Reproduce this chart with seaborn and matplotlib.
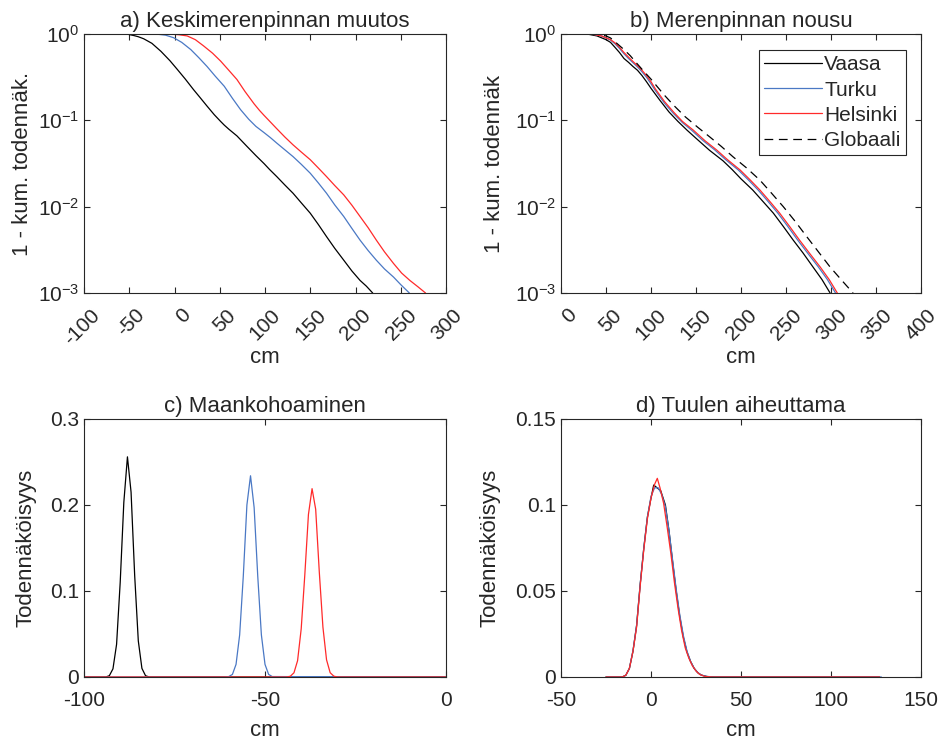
import numpy as np
import pandas as pd
import seaborn as sns
import matplotlib.pyplot as plt
from matplotlib.ticker import NullLocator, FuncFormatter, FixedLocator
from matplotlib.transforms import ScaledTranslation

# --- a) Keskimerenpinnan muutos: 1 - cumulative probability ---
a_vaasa_cm = [-100, -60, -52, -45, -40, -34, -25, -15, -5, 3, 12, 21, 28, 36, 44, 51, 55, 60, 69, 80, 90,
              99, 105, 113, 122, 131, 140, 150, 159, 168, 177, 187, 196, 205, 212, 219]
a_vaasa_p = [1, 1, 0.995, 0.96, 0.93, 0.88, 0.78, 0.63, 0.49, 0.39, 0.30, 0.227, 0.185, 0.146, 0.116, 0.097,
             0.088, 0.079, 0.066, 0.050, 0.039, 0.0315, 0.027, 0.0223, 0.0178, 0.0143, 0.0111, 0.0084,
             0.0062, 0.0045, 0.0033, 0.0024, 0.0018, 0.0014, 0.0012, 0.001]
a_turku_cm = [-100, -25, -19, -10, -1, 8, 18, 27, 36, 45, 55, 64, 73, 82, 90, 99, 106, 113, 122, 131,
              140, 150, 159, 168, 177, 187, 196, 205, 214, 223, 232, 242, 250, 259.5]
a_turku_p = [1, 1, 0.995, 0.97, 0.906, 0.80, 0.66, 0.53, 0.42, 0.325, 0.248, 0.18, 0.133, 0.103, 0.085,
             0.072, 0.063, 0.0545, 0.0455, 0.038, 0.031, 0.0244, 0.0188, 0.0143, 0.0105, 0.0077, 0.0056,
             0.0041, 0.0031, 0.0024, 0.0019, 0.00153, 0.00125, 0.001]
a_helsinki_cm = [-100, -10, -4, 5, 14, 23, 32, 42, 51, 60, 69, 78, 88, 94, 99, 105, 113, 122, 131, 140,
                 150, 159, 168, 177, 187, 196, 205, 214, 223, 232, 242, 251, 260, 269, 277.4]
a_helsinki_p = [1, 1, 0.997, 0.98, 0.95, 0.86, 0.73, 0.60, 0.485, 0.38, 0.297, 0.215, 0.155, 0.130, 0.114,
                0.098, 0.080, 0.064, 0.052, 0.043, 0.035, 0.028, 0.0223, 0.0176, 0.0137, 0.0104, 0.0077,
                0.0057, 0.0041, 0.0030, 0.0022, 0.0017, 0.0014, 0.00118, 0.001]

# --- b) Merenpinnan nousu ---
b_vaasa_cm = [0, 20, 30, 40, 50, 55, 60, 65, 70, 75, 80, 85, 90, 95, 100, 110, 120, 130, 140, 150, 165,
              180, 190, 200, 213, 225, 236, 247, 258, 269, 280, 290, 299]
b_vaasa_p = [1, 1, 0.995, 0.95, 0.86, 0.80, 0.70, 0.61, 0.52, 0.47, 0.42, 0.38, 0.33, 0.28, 0.235, 0.17,
             0.125, 0.097, 0.077, 0.062, 0.045, 0.034, 0.027, 0.021, 0.0156, 0.0113, 0.0084, 0.0059,
             0.0041, 0.0029, 0.0020, 0.00143, 0.001]
b_turku_cm = [0, 25, 35, 45, 55, 60, 65, 70, 75, 80, 85, 90, 95, 100, 105, 115, 125, 135, 145, 158, 171,
              183, 197, 208, 219, 230, 241, 252, 263, 274, 286, 296, 305]
b_turku_p = [1, 1, 0.995, 0.95, 0.85, 0.77, 0.68, 0.59, 0.52, 0.465, 0.415, 0.365, 0.315, 0.265, 0.22,
             0.158, 0.12, 0.094, 0.077, 0.058, 0.0453, 0.035, 0.0266, 0.0205, 0.0156, 0.0115, 0.0084,
             0.0059, 0.0041, 0.0029, 0.0020, 0.00143, 0.001]
b_helsinki_cm = [0, 25, 35, 45, 55, 60, 65, 70, 75, 80, 85, 90, 95, 100, 105, 115, 125, 135, 147, 160,
                 173, 185, 199, 210, 221, 232, 243, 254, 265, 276, 288, 298, 307]
b_helsinki_p = [1, 1, 0.995, 0.95, 0.86, 0.79, 0.70, 0.61, 0.54, 0.48, 0.43, 0.38, 0.33, 0.28, 0.23,
                0.165, 0.125, 0.097, 0.077, 0.058, 0.0453, 0.035, 0.0266, 0.0205, 0.0156, 0.0115, 0.0084,
                0.0059, 0.0041, 0.0029, 0.0020, 0.00143, 0.001]
b_global_cm = [0, 30, 40, 50, 55, 62, 70, 77, 84, 92, 100, 107, 115, 125, 138, 152, 165, 178, 191, 206,
               221, 234, 247, 260, 273, 286, 299, 312, 324.5]
b_global_p = [1, 1, 0.995, 0.95, 0.9, 0.78, 0.66, 0.56, 0.46, 0.37, 0.30, 0.245, 0.195, 0.15, 0.11,
              0.083, 0.0646, 0.05, 0.0379, 0.0282, 0.0203, 0.0143, 0.010, 0.0068, 0.0045, 0.0030,
              0.0020, 0.0014, 0.001]

# --- c) Maankohoaminen: probability ---
c_vaasa_cm = [-100, -94, -93, -92, -91, -90, -89, -88, -87, -86, -85, -84, -83, -82, 0]
c_vaasa_p = [0, 0, 0.0015, 0.0095, 0.038, 0.110, 0.203, 0.256, 0.215, 0.118, 0.042, 0.010, 0.0015, 0, 0]
c_turku_cm = [-100, -61, -60, -59, -58, -57, -56, -55, -54, -53, -52, -51, -50, -49, -48, 0]
c_turku_p = [0, 0, 0.0005, 0.003, 0.0147, 0.049, 0.117, 0.200, 0.234, 0.197, 0.117, 0.049, 0.0147,
             0.003, 0.0005, 0]
c_helsinki_cm = [-100, -44, -43, -42, -41, -40, -39, -38, -37, -36, -35, -34, -33, -32, -31, -30, 0]
c_helsinki_p = [0, 0, 0.0009, 0.0049, 0.019, 0.056, 0.119, 0.189, 0.219, 0.195, 0.122, 0.058, 0.020,
                0.005, 0.001, 0, 0]

# --- d) Tuulen aiheuttama ---
d_vaasa_cm = [-25, -16, -14, -12, -10, -8, -6, -4, -2, 0, 1.5, 5.4, 8, 10, 12, 14, 16, 18, 20, 22, 24,
              26, 28, 31, 35, 127]
d_vaasa_p = [0, 0, 0.001, 0.005, 0.015, 0.030, 0.054, 0.075, 0.093, 0.104, 0.1116, 0.1083, 0.100, 0.085,
             0.067, 0.050, 0.035, 0.023, 0.0145, 0.009, 0.005, 0.0025, 0.0011, 0.0003, 0, 0]
d_turku_cm = [-25, -16, -14, -12, -10, -8, -6, -4, -2, 0, 2, 4, 6, 8, 10, 12, 14, 16, 18, 20, 22, 24, 26,
              28, 31, 35, 128]
d_turku_p = [0, 0, 0.001, 0.005, 0.0155, 0.030, 0.054, 0.075, 0.093, 0.105, 0.110, 0.110, 0.106, 0.099,
             0.085, 0.068, 0.051, 0.036, 0.024, 0.015, 0.009, 0.005, 0.0025, 0.0011, 0.0003, 0, 0]
d_helsinki_cm = [-25, -16, -14, -12, -10, -8, -6, -4, -2, 0, 2, 3.5, 5, 7, 9, 11, 13, 15, 17, 19, 21, 23,
                 25, 27, 30, 34, 127]
d_helsinki_p = [0, 0, 0.001, 0.005, 0.015, 0.029, 0.053, 0.074, 0.092, 0.104, 0.112, 0.1155, 0.110, 0.101,
                0.087, 0.072, 0.055, 0.040, 0.027, 0.017, 0.011, 0.0065, 0.0035, 0.0015, 0.0003, 0, 0]

cities = ['Vaasa', 'Turku', 'Helsinki']
colors = {'Vaasa': '#000000', 'Turku': '#4a78c4', 'Helsinki': '#ff2a2a'}
TXT = '#262626'

sns.set_theme(style='ticks')
plt.rcParams['font.family'] = ['Liberation Sans', 'DejaVu Sans']
plt.rcParams.update({
    'axes.unicode_minus': False,
    'axes.edgecolor': TXT, 'axes.linewidth': 0.8,
    'xtick.color': TXT, 'ytick.color': TXT,
    'xtick.direction': 'in', 'ytick.direction': 'in',
    'xtick.top': True, 'ytick.right': True,
    'xtick.major.size': 4, 'ytick.major.size': 4,
    'xtick.major.width': 0.8, 'ytick.major.width': 0.8,
    'xtick.labelsize': 15, 'ytick.labelsize': 15,
    'text.color': TXT, 'axes.labelcolor': TXT,
})

fig = plt.figure(figsize=(9.41, 7.4), dpi=100)
ax_a = fig.add_axes([84 / 941, 1 - 293 / 740, 362 / 941, 259 / 740])
ax_b = fig.add_axes([561 / 941, 1 - 293 / 740, 360 / 941, 259 / 740])
ax_c = fig.add_axes([84 / 941, 1 - 677 / 740, 362 / 941, 258 / 740])
ax_d = fig.add_axes([561 / 941, 1 - 677 / 740, 360 / 941, 258 / 740])

LW = 0.9


def draw(ax, xs, ys, **kw):
    df = pd.DataFrame({'cm': xs, 'p': ys})
    sns.lineplot(data=df, x='cm', y='p', ax=ax, estimator=None, sort=False, lw=LW, **kw)


a_data = {'Vaasa': (a_vaasa_cm, a_vaasa_p), 'Turku': (a_turku_cm, a_turku_p),
          'Helsinki': (a_helsinki_cm, a_helsinki_p)}
b_data = {'Vaasa': (b_vaasa_cm, b_vaasa_p), 'Turku': (b_turku_cm, b_turku_p),
          'Helsinki': (b_helsinki_cm, b_helsinki_p)}
c_data = {'Vaasa': (c_vaasa_cm, c_vaasa_p), 'Turku': (c_turku_cm, c_turku_p),
          'Helsinki': (c_helsinki_cm, c_helsinki_p)}
d_data = {'Vaasa': (d_vaasa_cm, d_vaasa_p), 'Turku': (d_turku_cm, d_turku_p),
          'Helsinki': (d_helsinki_cm, d_helsinki_p)}

for c in cities:
    draw(ax_a, *a_data[c], color=colors[c])
    draw(ax_b, *b_data[c], color=colors[c], label=c)
    draw(ax_c, *c_data[c], color=colors[c])
    draw(ax_d, *d_data[c], color=colors[c])
draw(ax_b, b_global_cm, b_global_p, color='black', linestyle=(0, (7, 4.5)), label='Globaali')

# log panels
for ax, xmin, xmax in [(ax_a, -100, 300), (ax_b, 0, 400)]:
    ax.set_yscale('log')
    ax.set_ylim(1e-3, 1)
    ax.yaxis.set_major_locator(FixedLocator([1e-3, 1e-2, 1e-1, 1]))
    ax.yaxis.set_minor_locator(NullLocator())
    ax.tick_params(axis='x', pad=9)
    ax.set_xticks(np.arange(xmin, xmax + 1, 50))
    ax.set_xlim(xmin, xmax)
    off = ScaledTranslation(6 / 100, 0, fig.dpi_scale_trans)
    for lab in ax.get_xticklabels():
        lab.set_rotation(45)
        lab.set_ha('right')
        lab.set_va('top')
        lab.set_rotation_mode('anchor')
        lab.set_transform(lab.get_transform() + off)

ax_a.set_title('a) Keskimerenpinnan muutos', fontsize=16, pad=5)
ax_b.set_title('b) Merenpinnan nousu', fontsize=16, pad=5)
ax_a.set_ylabel('1 - kum. todennäk.', fontsize=16)
ax_b.set_ylabel('1 - kum. todennäk', fontsize=16)

# linear panels
ax_c.set_xlim(-100, 0)
ax_c.set_ylim(0, 0.3)
ax_c.set_xticks([-100, -50, 0])
ax_c.set_yticks([0, 0.1, 0.2, 0.3])
ax_d.set_xlim(-50, 150)
ax_d.set_ylim(0, 0.15)
ax_d.set_xticks([-50, 0, 50, 100, 150])
ax_d.set_yticks([0, 0.05, 0.1, 0.15])
for ax in (ax_c, ax_d):
    ax.yaxis.set_major_formatter(FuncFormatter(lambda v, p: f'{v:g}'))
    ax.set_ylabel('Todennäköisyys', fontsize=16)
    ax.tick_params(axis='x', pad=10)
ax_c.set_title('c) Maankohoaminen', fontsize=16, pad=5)
ax_d.set_title('d) Tuulen aiheuttama', fontsize=16, pad=5)

for ax in (ax_a, ax_b, ax_c, ax_d):
    ax.set_xlabel('cm', fontsize=16)
    for s in ax.spines.values():
        s.set_visible(True)

ax_a.xaxis.set_label_coords(0.5, -0.21)
ax_b.xaxis.set_label_coords(0.5, -0.21)
ax_c.xaxis.set_label_coords(0.5, -0.165)
ax_d.xaxis.set_label_coords(0.5, -0.165)
ax_a.yaxis.set_label_coords(-0.141, 0.5)
ax_b.yaxis.set_label_coords(-0.156, 0.5)
ax_c.yaxis.set_label_coords(-0.130, 0.5)
ax_d.yaxis.set_label_coords(-0.167, 0.5)

leg = ax_b.legend(loc='upper right', bbox_to_anchor=(0.958, 0.938), fontsize=15, frameon=True,
                  fancybox=False, edgecolor=TXT, framealpha=1, handlelength=2.8,
                  labelspacing=0.3, borderpad=0.25, handletextpad=0.1, borderaxespad=0)
leg.get_frame().set_linewidth(0.8)

fig.savefig('out.png', dpi=100)
